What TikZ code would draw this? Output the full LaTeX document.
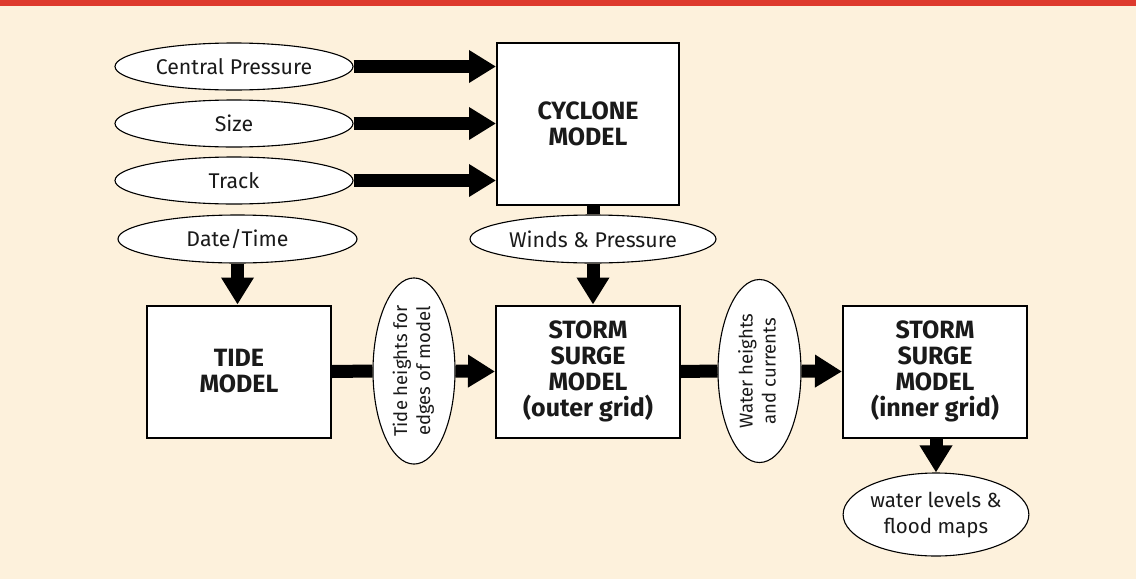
\documentclass[tikz,border=0pt]{standalone}
\usepackage{fontspec}
\setmainfont{Fira Sans}
\usetikzlibrary{arrows.meta,shapes.geometric}
\definecolor{cream}{HTML}{FDF1DC}
\definecolor{topred}{HTML}{DE3A2D}
\definecolor{ink}{HTML}{1A1A1A}
\begin{document}
\begin{tikzpicture}[x=1pt,y=-1pt,
  box/.style={draw, line width=2pt, fill=white, minimum width=184pt, minimum height=132pt,
    inner sep=0pt, align=center, text=ink, font=\fontsize{25}{26}\selectfont\bfseries},
  oval/.style={draw, ellipse, line width=1.1pt, fill=white, inner sep=0pt, align=center,
    text=ink, font=\fontsize{21.3}{26}\selectfont},
  flow/.style={line width=13pt, -{Triangle[length=27pt,width=31pt]}},
  link/.style={line width=13pt}]
\useasboundingbox (0,0) rectangle (1136,579);
\fill[cream] (0,0) rectangle (1136,579);
\fill[topred] (0,0) rectangle (1136,6);
% nodes
\node[box, minimum width=182pt, minimum height=162pt] (cyc) at (588,124) {CYCLONE\\MODEL};
\node[oval, minimum width=238pt, minimum height=47pt] (cp) at (234,66.5) {Central Pressure};
\node[oval, minimum width=238pt, minimum height=47pt] (sz) at (234,123.5) {Size};
\node[oval, minimum width=238pt, minimum height=47pt] (tr) at (234,180.5) {Track};
\node[oval, minimum width=239pt, minimum height=48pt] (dt) at (237.5,239) {Date/Time};
\node[oval, minimum width=246pt, minimum height=48pt] (wp) at (593,239) {Winds \& Pressure};
\node[box] (tide) at (239,371.5) {TIDE\\MODEL};
\node[box] (outer) at (588,371.5) {STORM\\SURGE\\MODEL\\(outer grid)};
\node[box] (inner) at (935,371.5) {STORM\\SURGE\\MODEL\\(inner grid)};
\node[oval, minimum width=82pt, minimum height=183pt] (th) at (414,371)
  {\rotatebox{90}{\fontsize{18.5}{23}\selectfont\begin{tabular}{@{}c@{}}Tide heights for\\edges of model\end{tabular}}};
\node[oval, minimum width=83pt, minimum height=183pt] (wh) at (759.5,371)
  {\rotatebox{90}{\fontsize{18.5}{23}\selectfont\begin{tabular}{@{}c@{}}Water heights\\and currents\end{tabular}}};
\node[oval, minimum width=184pt, minimum height=83pt, font=\fontsize{20.5}{26}\selectfont] (out) at (936,514.5) {water levels \&\\flood maps};
% connectors
\draw[flow] (cp.east) -- (cp.east -| cyc.west);
\draw[flow] (sz.east) -- (sz.east -| cyc.west);
\draw[flow] (tr.east) -- (tr.east -| cyc.west);
\draw[link] (wp.north |- cyc.south) -- (wp.north);
\draw[flow] (wp.south) -- (wp.south |- outer.north);
\draw[flow] (dt.south) -- (dt.south |- tide.north);
\draw[link] (tide.east) -- (th.west);
\draw[flow] (th.east) -- (outer.west);
\draw[link] (outer.east) -- (wh.west);
\draw[flow] (wh.east) -- (inner.west);
\draw[flow] (inner.south -| out.north) -- (out.north);
\end{tikzpicture}
\end{document}
